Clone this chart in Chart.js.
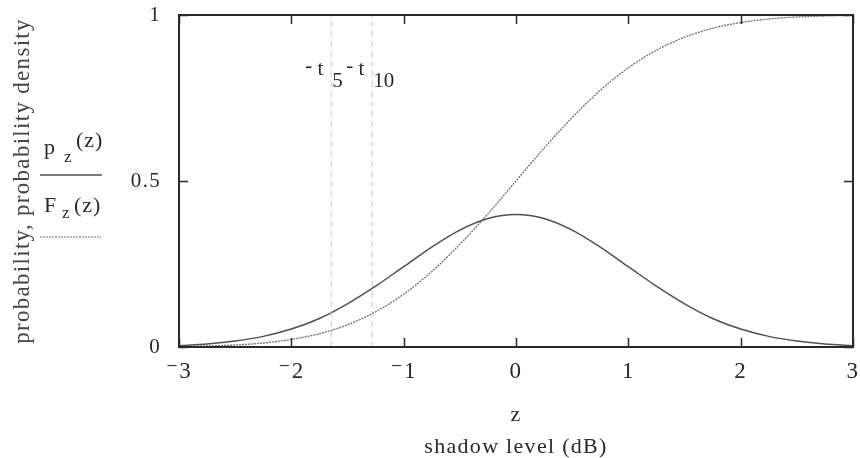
<!DOCTYPE html>
<html lang="en">
<head>
    <meta charset="UTF-8">
    <title>Shadow level distribution</title>
    <style>
        body { margin: 0; background: #fff; }
    </style>
    <script src="https://cdn.jsdelivr.net/npm/chart.js"></script>
</head>
<body>
<canvas id="myChart" width="860" height="458"></canvas>
<script>
    // values
    const zValues = [-3, -2.75, -2.5, -2.25, -2, -1.75, -1.5, -1.25, -1, -0.75, -0.5, -0.25, 0,
        0.25, 0.5, 0.75, 1, 1.25, 1.5, 1.75, 2, 2.25, 2.5, 2.75, 3];
    const pdfValues = [0.004, 0.009, 0.018, 0.032, 0.054, 0.086, 0.13, 0.183, 0.242, 0.301, 0.352, 0.387, 0.399,
        0.387, 0.352, 0.301, 0.242, 0.183, 0.13, 0.086, 0.054, 0.032, 0.018, 0.009, 0.004];
    const cdfValues = [0.001, 0.003, 0.006, 0.012, 0.023, 0.04, 0.067, 0.106, 0.159, 0.227, 0.309, 0.401, 0.5,
        0.599, 0.691, 0.773, 0.841, 0.894, 0.933, 0.96, 0.977, 0.988, 0.994, 0.997, 0.999];
    const markerZ = [-1.645, -1.28];
    const markerNames = ["5", "10"];
    const xTicks = [-3, -2, -1, 0, 1, 2, 3];
    const yTicks = [0, 0.5, 1];

    const serif = "'Liberation Serif', 'DejaVu Serif', serif";
    const ink = "#2a2a2a";
    const pdfColor = "#505050";
    const cdfColor = "#707070";

    function points(ys) {
        return zValues.map((z, i) => ({x: z, y: ys[i]}));
    }

    // the old plotting program spaces its letters out a little
    const spacing = {
        id: "spacing",
        beforeDraw(chart) { chart.ctx.letterSpacing = "1.3px"; }
    };

    // frame, inward ticks, legend and the -t labels
    const decorations = {
        id: "decorations",
        afterDraw(chart) {
            const ctx = chart.ctx;
            const a = chart.chartArea;
            const xs = chart.scales.x;
            const ys = chart.scales.y;
            ctx.save();
            ctx.strokeStyle = ink;
            ctx.lineWidth = 2;
            ctx.strokeRect(a.left, a.top, a.right - a.left, a.bottom - a.top);
            ctx.lineWidth = 1.5;
            ctx.beginPath();
            xTicks.forEach(v => {
                const px = Math.round(xs.getPixelForValue(v)) + 0.5;
                ctx.moveTo(px, a.bottom); ctx.lineTo(px, a.bottom - 9);
                ctx.moveTo(px, a.top); ctx.lineTo(px, a.top + 9);
            });
            yTicks.forEach(v => {
                const py = Math.round(ys.getPixelForValue(v)) + 0.5;
                ctx.moveTo(a.left, py); ctx.lineTo(a.left + 9, py);
                ctx.moveTo(a.right, py); ctx.lineTo(a.right - 9, py);
            });
            ctx.stroke();

            // -t labels next to the marker lines
            ctx.fillStyle = ink;
            ctx.textBaseline = "alphabetic";
            ctx.letterSpacing = "0px";
            markerZ.forEach((z, i) => {
                const px = xs.getPixelForValue(z);
                ctx.font = "21px " + serif;
                ctx.textAlign = "right";
                ctx.fillText("t", px - 8, 75);
                ctx.fillText("-", px - 19, 72);
                ctx.textAlign = "left";
                ctx.fillText(markerNames[i], px + 1, 87);
            });

            // legend in the left margin
            ctx.letterSpacing = "1px";
            ctx.textAlign = "left";
            ctx.font = "22px " + serif;
            ctx.fillText("p", 44, 154);
            ctx.fillText("(z)", 76, 147);
            ctx.fillText("F", 44, 212);
            ctx.fillText("(z)", 74, 212);
            ctx.font = "17px " + serif;
            ctx.fillText("z", 64, 162);
            ctx.fillText("z", 62, 218);
            ctx.lineWidth = 1.5;
            ctx.strokeStyle = pdfColor;
            ctx.beginPath();
            ctx.moveTo(40, 175); ctx.lineTo(102, 175);
            ctx.stroke();
            ctx.strokeStyle = cdfColor;
            ctx.setLineDash([2, 1]);
            ctx.lineWidth = 1.2;
            ctx.beginPath();
            ctx.moveTo(40, 237); ctx.lineTo(101, 237);
            ctx.stroke();
            ctx.restore();
        }
    };

    const markerSets = markerZ.map(z => ({
        label: "marker",
        data: [{x: z, y: 0}, {x: z, y: 1}],
        borderColor: "#c8c8c8",
        borderWidth: 1,
        borderDash: [6, 4],
        pointRadius: 0
    }));

    new Chart(document.getElementById("myChart"), {
        type: "line",
        data: {
            datasets: [
                ...markerSets,
                {
                    label: "p z(z)",
                    data: points(pdfValues),
                    borderColor: pdfColor,
                    borderWidth: 1.5,
                    pointRadius: 0,
                    cubicInterpolationMode: "monotone"
                },
                {
                    label: "F z(z)",
                    data: points(cdfValues),
                    borderColor: cdfColor,
                    borderWidth: 1.3,
                    borderDash: [2, 1],
                    pointRadius: 0,
                    cubicInterpolationMode: "monotone"
                }
            ]
        },
        options: {
            responsive: false,
            animation: false,
            layout: {padding: {top: 15, right: 7, left: 0, bottom: 0}},
            plugins: {legend: {display: false}, tooltip: {enabled: false}},
            scales: {
                x: {
                    type: "linear",
                    min: -3,
                    max: 3,
                    afterBuildTicks: s => { s.ticks = xTicks.map(v => ({value: v})); },
                    afterFit: s => { s.height = 111; s.paddingLeft = 0; s.paddingRight = 0; },
                    grid: {display: false},
                    border: {display: false},
                    ticks: {
                        color: ink,
                        padding: 3,
                        maxRotation: 0,
                        font: {family: serif, size: 23},
                        callback: v => v < 0 ? "\u207B" + Math.abs(v) : String(v)
                    },
                    title: {
                        display: true,
                        text: ["z", "shadow level (dB)"],
                        color: ink,
                        font: {family: serif, size: 22, lineHeight: 1.45},
                        padding: {top: 0, bottom: -5}
                    }
                },
                y: {
                    min: 0,
                    max: 1,
                    afterBuildTicks: s => { s.ticks = yTicks.map(v => ({value: v})); },
                    afterFit: s => { s.width = 179; s.paddingTop = 0; s.paddingBottom = 0; },
                    grid: {display: false},
                    border: {display: false},
                    ticks: {
                        color: ink,
                        padding: 10,
                        font: {family: serif, size: 21},
                        callback: v => String(v)
                    },
                    title: {
                        display: true,
                        text: "probability, probability density",
                        color: "#444",
                        font: {family: serif, size: 23},
                        padding: {top: 9, bottom: 0}
                    }
                }
            }
        },
        plugins: [spacing, decorations]
    });
</script>
</body>
</html>
